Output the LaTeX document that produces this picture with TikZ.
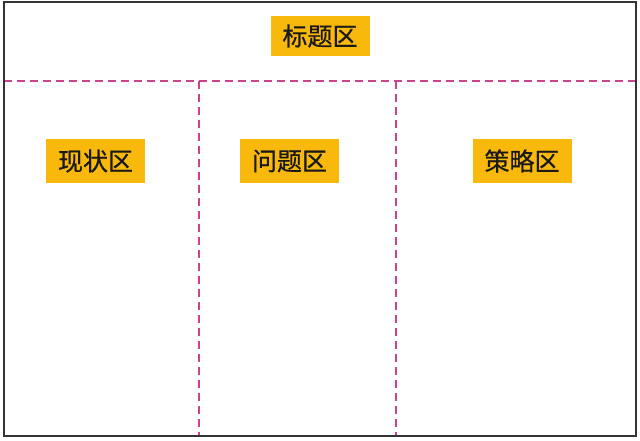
\documentclass[tikz,border=0pt]{standalone}
\usepackage{fontspec}
\newfontfamily\cjk[FakeBold=0.6]{Noto Sans CJK SC}
\definecolor{boxgold}{HTML}{F8B80C}
\definecolor{dashpink}{HTML}{C9448C}
\definecolor{framegray}{HTML}{333333}
\tikzset{
  zone/.style={fill=boxgold, text=black!90, font=\cjk\fontsize{25}{27}\selectfont, inner sep=0pt, minimum width=99pt, minimum height=43pt, anchor=center},
  divider/.style={draw=dashpink, line width=1.2pt, dash pattern=on 8pt off 5pt},
  frame/.style={draw=framegray, line width=1.5pt}
}
\begin{document}
\begin{tikzpicture}[x=1pt,y=-1pt]
\useasboundingbox[fill=white] (0,0) rectangle (640,441);
\coordinate (hl) at (4,81);
\coordinate (hr) at (636,81);
\coordinate (v1t) at (199,81);
\coordinate (v1b) at (199,436);
\coordinate (v2t) at (396,81);
\coordinate (v2b) at (396,436);
\draw[divider] (hl) -- (hr);
\draw[divider] (v1t) -- (v1b);
\draw[divider] (v2t) -- (v2b);
\draw[frame] (4,2) rectangle (636,436);
\node[zone, minimum height=40pt] (title) at (320,36) {标题区};
\node[zone] (status) at (95.5,161) {现状区};
\node[zone] (problem) at (289.5,161) {问题区};
\node[zone] (strategy) at (522,161) {策略区};
\end{tikzpicture}
\end{document}
